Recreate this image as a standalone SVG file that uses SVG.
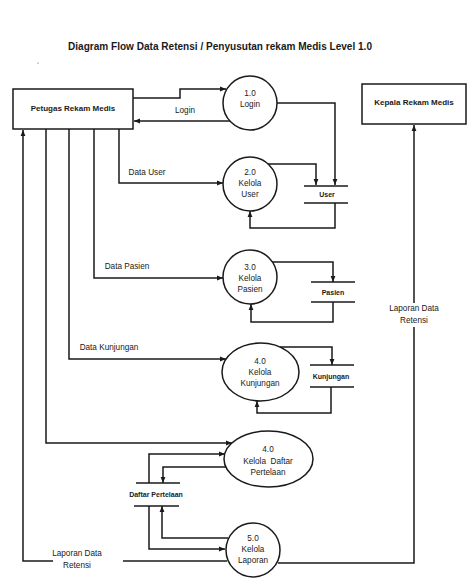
<svg xmlns="http://www.w3.org/2000/svg" width="473" height="578" viewBox="0 0 473 578">
<style>
.ln{fill:none;stroke:#1a1a1a;stroke-width:1.5}
.sh{fill:#fff;stroke:#1a1a1a;stroke-width:1.5}
text{font-family:"Liberation Sans",Arial,sans-serif;fill:#1a1a1a;text-anchor:middle}
.t{font-size:8.2px}
.b{font-size:8px;font-weight:bold}
.s{font-size:7px;font-weight:bold}
.title{font-size:11px;font-weight:bold}
</style>
<defs>
<marker id="ar" viewBox="0 0 10 10" refX="10" refY="5" markerWidth="6" markerHeight="6" orient="auto" markerUnits="userSpaceOnUse">
<path d="M0,1 L10,5 L0,9 z" fill="#1a1a1a"/>
</marker>
</defs>
<rect width="473" height="578" fill="#fff"/>
<text class="title" x="220" y="50" textLength="304" lengthAdjust="spacingAndGlyphs">Diagram Flow Data Retensi / Penyusutan rekam Medis Level 1.0</text>
<circle cx="38" cy="63" r="0.6" fill="#555"/>

<g id="connectors">
<polyline class="ln" points="133,98 180,98 180,89 226,89" marker-end="url(#ar)"/>
<line class="ln" x1="230" y1="121" x2="134" y2="121" marker-end="url(#ar)"/>
<polyline class="ln" points="277,103 335,103 335,185" marker-end="url(#ar)"/>
<polyline class="ln" points="268,164 316,164 316,185" marker-end="url(#ar)"/>
<polyline class="ln" points="119,129 119,183 223,183" marker-end="url(#ar)"/>
<polyline class="ln" points="335,203 335,228 250,228 250,211" marker-end="url(#ar)"/>
<polyline class="ln" points="94,129 94,278 223,278" marker-end="url(#ar)"/>
<polyline class="ln" points="272,262 333,262 333,282" marker-end="url(#ar)"/>
<polyline class="ln" points="333,302 333,322 251,322 251,304" marker-end="url(#ar)"/>
<polyline class="ln" points="69,129 69,359 226,359" marker-end="url(#ar)"/>
<polyline class="ln" points="280,347 332,347 332,365" marker-end="url(#ar)"/>
<polyline class="ln" points="331,387 331,413 257,413 257,401" marker-end="url(#ar)"/>
<polyline class="ln" points="46,129 46,443 232,443" marker-end="url(#ar)"/>
<polyline class="ln" points="149,483 149,454 225,454" marker-end="url(#ar)"/>
<polyline class="ln" points="226,467 163,467 163,483" marker-end="url(#ar)"/>
<polyline class="ln" points="228,538 162,538 162,506" marker-end="url(#ar)"/>
<polyline class="ln" points="149,506 149,549 225,549" marker-end="url(#ar)"/>
<polyline class="ln" points="53,561 23,561 23,130" marker-end="url(#ar)"/>
<line class="ln" x1="123" y1="561" x2="227" y2="561"/>
<polyline class="ln" points="278,563 414,563 414,327"/>
<line class="ln" x1="414" y1="303" x2="414" y2="125" marker-end="url(#ar)"/>
<text class="t" x="185" y="113">Login</text>
<text class="t" x="147" y="175">Data User</text>
<text class="t" x="127" y="269">Data Pasien</text>
<text class="t" x="109" y="350">Data Kunjungan</text>
<text class="t" x="414" y="311">Laporan Data</text>
<text class="t" x="414" y="323">Retensi</text>
<text class="t" x="77" y="556">Laporan Data</text>
<text class="t" x="77" y="568">Retensi</text>
</g>

<g id="petugas">
<rect class="sh" x="13" y="89" width="120" height="40"/>
<text class="b" x="73" y="111">Petugas Rekam Medis</text>
</g>
<g id="kepala">
<rect class="sh" x="362" y="84" width="104" height="40"/>
<text class="b" x="414" y="105">Kepala Rekam Medis</text>
</g>
<g id="p1">
<circle class="sh" cx="250" cy="103" r="27"/>
<text class="t" x="250" y="96">1.0</text>
<text class="t" x="250" y="107">Login</text>
</g>
<g id="p2">
<circle class="sh" cx="250" cy="184" r="27"/>
<text class="t" x="250" y="175">2.0</text>
<text class="t" x="250" y="186">Kelola</text>
<text class="t" x="250" y="197">User</text>
</g>
<g id="p3">
<circle class="sh" cx="250" cy="277" r="27"/>
<text class="t" x="250" y="270">3.0</text>
<text class="t" x="250" y="281">Kelola</text>
<text class="t" x="250" y="292">Pasien</text>
</g>
<g id="p4a">
<ellipse class="sh" cx="260.5" cy="372" rx="38.5" ry="29"/>
<text class="t" x="260" y="364">4.0</text>
<text class="t" x="260" y="375">Kelola</text>
<text class="t" x="260" y="386">Kunjungan</text>
</g>
<g id="p4b">
<ellipse class="sh" cx="268.5" cy="459" rx="44.5" ry="28"/>
<text class="t" x="268" y="452">4.0</text>
<text class="t" x="268" y="464" xml:space="preserve">Kelola  Daftar</text>
<text class="t" x="268" y="475">Pertelaan</text>
</g>
<g id="p5">
<circle class="sh" cx="253" cy="550" r="27"/>
<text class="t" x="253" y="541">5.0</text>
<text class="t" x="253" y="552">Kelola</text>
<text class="t" x="253" y="563">Laporan</text>
</g>
<g id="ds-user">
<line class="ln" x1="304" y1="186" x2="348" y2="186"/>
<line class="ln" x1="304" y1="203" x2="348" y2="203"/>
<text class="s" x="327" y="197">User</text>
</g>
<g id="ds-pasien">
<line class="ln" x1="311" y1="282" x2="355" y2="282"/>
<line class="ln" x1="311" y1="302" x2="355" y2="302"/>
<text class="s" x="333" y="295">Pasien</text>
</g>
<g id="ds-kunjungan">
<line class="ln" x1="310" y1="365" x2="354" y2="365"/>
<line class="ln" x1="310" y1="387" x2="354" y2="387"/>
<text class="s" x="331" y="379">Kunjungan</text>
</g>
<g id="ds-daftar">
<line class="ln" x1="136" y1="483" x2="180" y2="483"/>
<line class="ln" x1="134" y1="506" x2="179" y2="506"/>
<text class="s" x="156" y="497">Daftar Pertelaan</text>
</g>
</svg>
